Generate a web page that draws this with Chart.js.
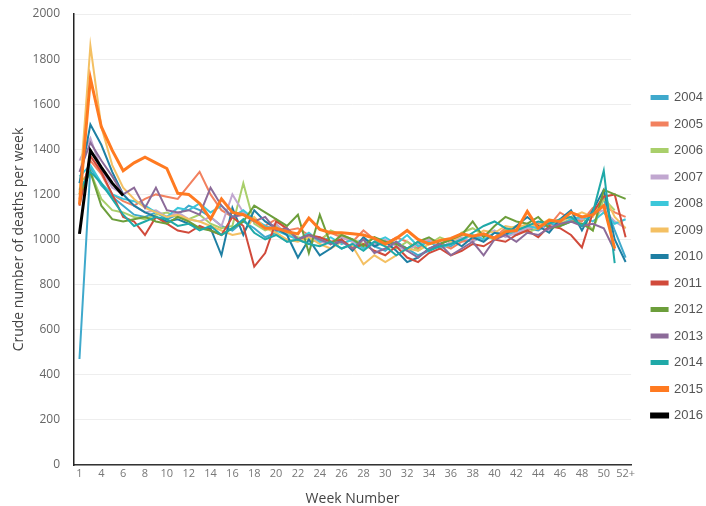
<!DOCTYPE html>
<html>
<head>
<meta charset="utf-8">
<script src="https://cdn.jsdelivr.net/npm/chart.js@4"></script>
<style>
  body { margin: 0; background: #fff; }
</style>
</head>
<body>
<canvas id="deathsChart" width="706" height="506"></canvas>
<script>
// x tick labels as they show under the axis (every second week slot)
const tickLabels = ['1','4','6','8','10','12','14','16','18','20','22','24','26','28','30','32','34','36','38','40','42','44','46','48','50','52+'];
const weeks = tickLabels.flatMap((t, i) => i === 0 ? [t] : ['', t]);

const years = ['2004','2005','2006','2007','2008','2009','2010','2011','2012','2013','2014','2015','2016'];
const colors = ['#3fa9cc','#f2815f','#a9cf6b','#c1a7d0','#3cc7da','#f4c063','#1e7fa3','#d14a3b','#6c9e3b','#8c6b99','#1fa9a8','#ff7a21','#000000'];

const y2004 = [470,1320,1240,1190,1150,1110,1100,1120,1090,1110,1150,1130,1100,1060,1040,1080,1050,1010,1030,990,1000,980,1010,990,960,980,1000,970,950,990,960,930,950,980,970,1000,990,1020,1000,1030,1020,1050,1040,1070,1060,1080,1090,1120,1180,1040,920];
const y2005 = [1180,1350,1290,1200,1170,1150,1180,1200,1190,1180,1240,1300,1200,1130,1100,1120,1080,1060,1090,1040,1050,1020,1000,1030,1010,990,1040,1000,980,1010,990,960,1000,980,960,990,1000,1020,1010,1050,1030,1040,1070,1060,1120,1090,1080,1140,1150,1120,1100];
const y2006 = [1250,1300,1180,1130,1120,1100,1090,1110,1120,1100,1090,1110,1070,1050,1060,1250,1070,1040,1060,1030,1010,1000,990,1040,1020,1000,980,1010,970,960,990,950,980,1010,990,1030,1050,1020,1000,1040,1060,1030,1050,1080,1070,1090,1100,1040,1180,1130];
const y2007 = [1350,1450,1310,1230,1200,1150,1120,1130,1100,1120,1090,1080,1100,1060,1200,1120,1080,1050,1070,1020,1000,1010,990,980,1010,990,960,980,1000,970,950,980,1000,960,990,1010,990,1020,1040,1010,1030,1050,1060,1040,1080,1100,1090,1110,1130,1080,1050];
const y2008 = [1280,1330,1250,1200,1180,1170,1150,1120,1100,1140,1130,1160,1120,1150,1100,1130,1090,1060,1040,1020,1000,1030,990,1010,980,1000,960,990,1010,980,1020,970,990,960,980,1000,1020,1000,1030,1020,1040,1060,1050,1080,1060,1090,1100,1080,1120,1070,1090];
const y2009 = [1200,1860,1500,1330,1230,1180,1140,1120,1100,1110,1090,1080,1060,1040,1020,1030,1100,1050,1030,1000,990,1010,980,960,990,970,890,930,900,930,960,950,980,1000,990,1020,1010,1040,1030,1060,1050,1070,1060,1090,1080,1100,1120,1100,1200,1100,1050];
const y2010 = [1250,1510,1420,1300,1200,1150,1120,1100,1080,1090,1070,1050,1050,930,1140,1020,1130,1080,1050,1020,920,1000,930,960,1000,950,1010,970,990,950,900,920,960,980,1000,970,1010,990,1030,1020,1060,1100,1060,1030,1090,1130,1040,1130,1220,1000,900];
const y2011 = [1150,1370,1300,1200,1100,1080,1020,1100,1070,1040,1030,1060,1040,1020,1100,1060,880,940,1080,1050,1000,1020,1010,990,1000,960,980,950,930,970,920,900,940,960,930,950,980,970,1000,990,1020,1040,1010,1060,1050,1020,965,1120,1190,1200,1010];
const y2012 = [1200,1300,1150,1090,1080,1090,1100,1080,1070,1100,1080,1050,1040,1020,1050,1080,1150,1120,1090,1060,1110,940,1110,980,1020,1000,970,1010,990,980,960,990,1010,980,1000,1020,1080,1010,1060,1100,1080,1070,1100,1050,1060,1080,1070,1040,1220,1200,1180];
const y2013 = [1300,1430,1350,1280,1200,1230,1140,1230,1130,1120,1130,1110,1230,1150,1100,1110,1080,1100,1040,1050,1000,1020,1000,980,990,960,1000,940,960,990,950,920,960,980,930,960,990,930,1000,1020,990,1030,1020,1050,1070,1080,1060,1070,1050,950];
const y2014 = [1220,1300,1250,1180,1110,1060,1080,1100,1090,1060,1070,1040,1060,1020,1050,1090,1030,1000,1020,990,1000,980,970,990,960,980,950,990,970,930,960,990,950,970,980,1000,1030,1060,1080,1050,1040,1060,1080,1070,1090,1100,1060,1120,1305,895];
const y2015 = [1155,1715,1500,1395,1305,1340,1365,1340,1315,1205,1200,1160,1090,1180,1120,1110,1085,1050,1050,1035,1025,1095,1045,1030,1030,1025,1020,1005,980,1005,1040,1000,980,995,1005,1025,1015,1025,1005,1035,1040,1125,1050,1085,1080,1120,1100,1110,1150,960];
const y2016 = [1025,1395,1320,1250,1195];

const series = [y2004,y2005,y2006,y2007,y2008,y2009,y2010,y2011,y2012,y2013,y2014,y2015,y2016];

const datasets = years.map((yr, i) => ({
  label: yr,
  data: series[i],
  borderColor: colors[i],
  backgroundColor: colors[i],
  borderWidth: yr === '2015' || yr === '2016' ? 3 : 2,
  pointRadius: 0,
  tension: 0,
  order: years.length - i
}));

const config = {
  type: 'line',
  data: { labels: weeks, datasets: datasets },
  options: {
    responsive: false,
    animation: false,
    layout: { padding: { left: 7, top: 6, right: -7, bottom: -1 } },
    plugins: {
      tooltip: { enabled: false },
      legend: {
        position: 'right',
        labels: {
          boxWidth: 16,
          boxHeight: 3,
          padding: 13.5,
          color: '#555',
          font: { family: 'Liberation Sans', size: 13 },
          sort: (a, b) => a.datasetIndex - b.datasetIndex
        }
      }
    },
    scales: {
      x: {
        offset: true,
        grid: { display: false, drawTicks: false },
        border: { color: '#333', width: 1.5 },
        ticks: {
          autoSkip: false,
          maxRotation: 0,
          padding: 2,
          color: '#777',
          font: { family: 'Open Sans', size: 11 }
        },
        title: {
          display: true,
          text: 'Week Number',
          color: '#444',
          font: { family: 'Open Sans', size: 14 },
          padding: { top: 8, bottom: 0 }
        }
      },
      y: {
        min: 0,
        max: 2000,
        grid: { color: '#eeeeee', drawTicks: false },
        border: { color: '#222', width: 1.5 },
        ticks: {
          stepSize: 200,
          padding: 14,
          color: '#666',
          font: { family: 'Open Sans', size: 12 },
          callback: v => String(v)
        },
        title: {
          display: true,
          text: 'Crude number of deaths per week',
          color: '#444',
          font: { family: 'Open Sans', size: 14 }
        },
        afterFit: scale => { scale.width = 67; scale.paddingTop = 14; }
      },
      gap: {
        position: 'right',
        display: true,
        grid: { display: false },
        border: { display: false },
        ticks: { display: false },
        afterFit: scale => { scale.width = 7; }
      }
    }
  }
};

const deathsChart = new Chart(document.getElementById('deathsChart'), config);
</script>
</body>
</html>
